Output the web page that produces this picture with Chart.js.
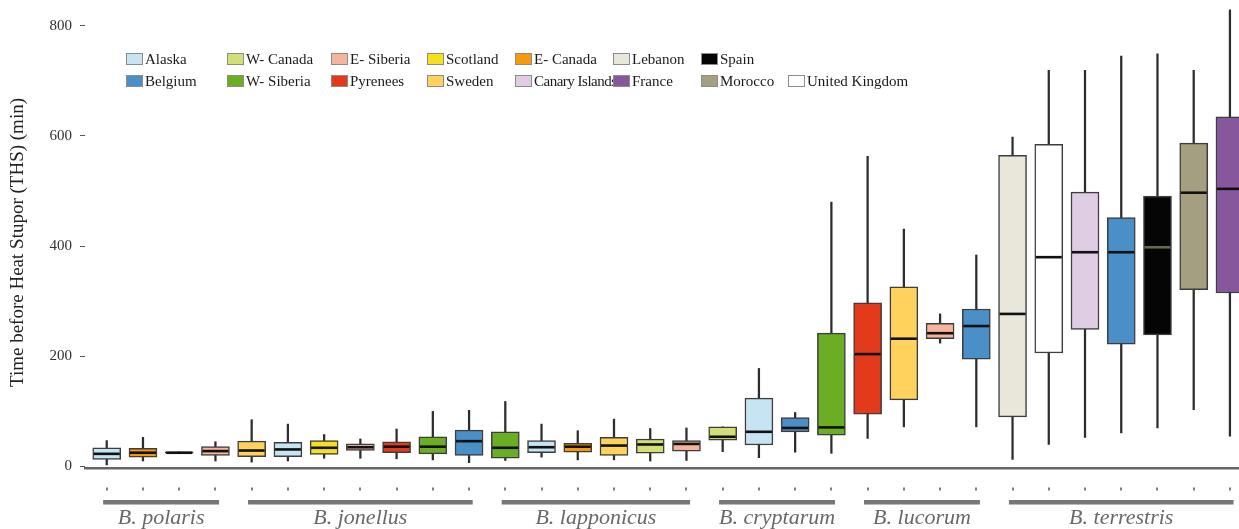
<!DOCTYPE html>
<html>
<head>
<meta charset="utf-8">
<script src="https://cdn.jsdelivr.net/npm/chart.js@4/dist/chart.umd.min.js"></script>
<style>
  body { margin: 0; background: #fff; }
  #wrap { position: relative; width: 1239px; height: 529px; overflow: hidden; }
  #legend { position: absolute; left: 126px; top: 48px; font-family: 'Liberation Serif', serif; font-size: 15px; color: #1a1a1a; }
  .row { display: flex; height: 22px; align-items: center; }
  .item { display: flex; align-items: center; white-space: nowrap; flex-shrink: 0; }
  .sw { width: 15px; height: 10px; border: 1px solid #8c8c8c; margin-right: 2px; flex-shrink: 0; }
</style>
</head>
<body>
<div id="wrap">
  <canvas id="myChart" width="1239" height="529"></canvas>
  <div id="legend"></div>
</div>
<script>
// species groups along the x axis, and how many boxes each one has
var species = ['B. polaris', 'B. jonellus', 'B. lapponicus', 'B. cryptarum', 'B. lucorum', 'B. terrestris'];
var groupSize = [4, 7, 6, 4, 4, 7];

// regions (legend) and their fill colours
var regionNames = ['Alaska', 'Belgium', 'W- Canada', 'W- Siberia', 'E- Siberia', 'Pyrenees', 'Scotland', 'Sweden',
    'E- Canada', 'Canary Islands', 'Lebanon', 'France', 'Spain', 'Morocco', 'United Kingdom'];
var regionColors = ['#c6e4f2', '#4a8fc7', '#d4de78', '#6bae24', '#f6b49e', '#e33a1c', '#f5e01c', '#fed25c',
    '#f59a0c', '#dfcde3', '#e8e7da', '#87579e', '#050505', '#a39f80', '#ffffff'];
var legendRow1 = ['Alaska', 'W- Canada', 'E- Siberia', 'Scotland', 'E- Canada', 'Lebanon', 'Spain'];
var legendRow2 = ['Belgium', 'W- Siberia', 'Pyrenees', 'Sweden', 'Canary Islands', 'France', 'Morocco', 'United Kingdom'];

// region of every box, left to right
var boxRegion = ['Alaska', 'E- Canada', 'Sweden', 'E- Siberia',
    'Sweden', 'Alaska', 'Scotland', 'E- Siberia', 'Pyrenees', 'W- Siberia', 'Belgium',
    'W- Siberia', 'Alaska', 'E- Canada', 'Sweden', 'W- Canada', 'E- Siberia',
    'W- Canada', 'Alaska', 'Belgium', 'W- Siberia',
    'Pyrenees', 'Sweden', 'E- Siberia', 'Belgium',
    'Lebanon', 'United Kingdom', 'Canary Islands', 'Belgium', 'Spain', 'Morocco', 'France'];

// box statistics (min)
var whiskerLow  = [3, 10, 24, 10,   8, 10, 15, 15, 14, 12, 7,   11, 17, 12, 12, 10, 11,   27, 16, 26, 24,   51, 72, 224, 72,   13, 40, 53, 61, 70, 103, 55];
var q1          = [13, 17, 24, 20,  18, 18, 22, 29, 25, 23, 20,  15, 25, 26, 20, 24, 28,  48, 39, 63, 57,   95, 121, 232, 195, 90, 206, 249, 222, 239, 321, 315];
var median      = [23, 25, 25, 28,  29, 31, 34, 35, 36, 36, 46,  34, 35, 36, 38, 40, 41,  54, 63, 70, 71,   204, 232, 242, 255, 277, 380, 389, 389, 398, 497, 504];
var q3          = [34, 33, 26.5, 36, 46, 44, 47, 41, 45, 54, 66, 63, 47, 42, 53, 50, 47,  72, 124, 89, 242,  297, 326, 260, 286, 565, 585, 498, 452, 491, 587, 635];
var whiskerHigh = [47, 53, 26.5, 45, 85, 77, 58, 50, 68, 100, 102, 118, 77, 65, 86, 69, 70, 72, 178, 98, 480, 563, 431, 277, 384, 598, 719, 719, 745, 749, 719, 829];

var yTicks = [0, 200, 400, 600, 800];

function colorOf(name) { return regionColors[regionNames.indexOf(name)]; }

// legend
var legend = document.getElementById('legend');
var colW = [101, 104, 96, 88, 98, 88, 87, 120];
[legendRow1, legendRow2].forEach(function (row) {
    var r = document.createElement('div');
    r.className = 'row';
    row.forEach(function (name, i) {
        var it = document.createElement('div');
        it.className = 'item';
        it.style.width = colW[i] + 'px';
        var tight = name.length > 12 && i < 7 ? ' style="letter-spacing:-0.5px"' : '';
        it.innerHTML = '<span class="sw" style="background:' + colorOf(name) + '"></span><span' + tight + '>' + name + '</span>';
        r.appendChild(it);
    });
    legend.appendChild(r);
});

var whiskerData = [], boxData = [], boxColors = [];
for (var i = 0; i < median.length; i++) {
    whiskerData.push({ x: i, y: [whiskerLow[i], whiskerHigh[i]] });
    boxData.push({ x: i, y: [q1[i], q3[i]] });
    boxColors.push(colorOf(boxRegion[i]));
}

var boxExtras = {
    id: 'boxExtras',
    afterDatasetsDraw: function (chart) {
        var ctx = chart.ctx, y = chart.scales.y;
        var meta = chart.getDatasetMeta(1);
        ctx.save();
        meta.data.forEach(function (bar, i) {
            var py = y.getPixelForValue(median[i]);
            ctx.strokeStyle = boxRegion[i] === 'Spain' ? '#6b6a48' : '#111';
            ctx.lineWidth = 2.6;
            ctx.beginPath();
            ctx.moveTo(bar.x - bar.width / 2 + 1, py);
            ctx.lineTo(bar.x + bar.width / 2 - 1, py);
            ctx.stroke();
        });
        ctx.restore();
    },
    afterDraw: function (chart) {
        var ctx = chart.ctx, x = chart.scales.x;
        ctx.save();
        ctx.fillStyle = '#555';
        for (var i = 0; i < median.length; i++) {
            ctx.fillRect(Math.round(x.getPixelForValue(i)) - 0.75, 487.5, 1.5, 3);
        }
        var start = 0;
        ctx.font = 'italic 22px "Liberation Serif"';
        ctx.textAlign = 'center';
        ctx.textBaseline = 'alphabetic';
        species.forEach(function (s, g) {
            var first = start, last = start + groupSize[g] - 1;
            var x0 = x.getPixelForValue(first - 0.1), x1 = x.getPixelForValue(last + 0.1);
            ctx.fillStyle = '#777';
            ctx.fillRect(x0, 500, x1 - x0, 4.5);
            ctx.fillStyle = '#686868';
            ctx.fillText(s, (x.getPixelForValue(first) + x.getPixelForValue(last)) / 2, 524);
            start += groupSize[g];
        });
        ctx.restore();
    }
};

var ctx = document.getElementById('myChart').getContext('2d');
var chart = new Chart(ctx, {
    type: 'bar',
    data: {
        datasets: [{
            label: 'whiskers',
            data: whiskerData,
            backgroundColor: '#2d2d2d',
            barThickness: 1.6,
            grouped: false,
            clip: false,
            order: 2
        }, {
            label: 'boxes',
            data: boxData,
            backgroundColor: boxColors,
            borderColor: '#3d3d3d',
            borderWidth: 1.5,
            borderSkipped: false,
            barThickness: 28,
            grouped: false,
            clip: false,
            order: 1
        }]
    },
    options: {
        responsive: false,
        animation: false,
        layout: { padding: 0 },
        plugins: { legend: { display: false }, tooltip: { enabled: false } },
        scales: {
            x: {
                type: 'linear',
                offset: false,
                min: -0.6,
                max: 31.25,
                afterFit: function (s) { s.height = 61; },
                ticks: { display: false },
                grid: { display: true, offset: false, drawOnChartArea: false, drawTicks: false },
                border: { display: true, color: '#666', width: 2.5 }
            },
            y: {
                min: -2.7,
                max: 816,
                afterFit: function (s) { s.width = 85; },
                afterBuildTicks: function (s) { s.ticks = yTicks.map(function (v) { return { value: v }; }); },
                border: { display: false },
                grid: { drawOnChartArea: false, drawTicks: true, tickLength: 5, color: '#555', lineWidth: 1 },
                ticks: { padding: 8, color: '#333', font: { family: 'Liberation Serif', size: 15 } },
                title: {
                    display: true,
                    text: 'Time before Heat Stupor (THS) (min)',
                    color: '#222',
                    font: { family: 'Liberation Serif', size: 19 },
                    padding: { top: 7, bottom: 0 }
                }
            }
        }
    },
    plugins: [boxExtras]
});
</script>
</body>
</html>
